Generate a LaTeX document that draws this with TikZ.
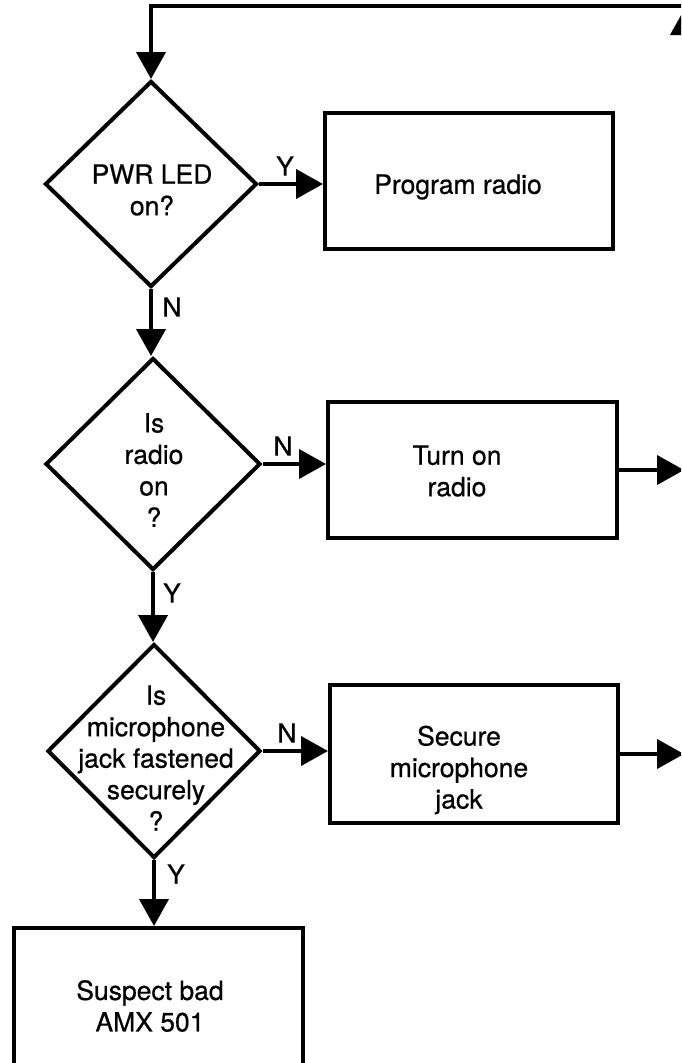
\documentclass[tikz,border=0pt]{standalone}
\usepackage{fontspec}
\setmainfont{TeX Gyre Heros}[FakeBold=0.6]
\usetikzlibrary{arrows.meta,shapes.geometric}
\begin{document}
\begin{tikzpicture}[x=1pt,y=-1pt,line width=4pt,
  arr/.style={-{Triangle[length=27pt,width=29pt]}},
  dia/.style={draw,diamond,inner sep=0pt},
  boxnode/.style={draw,rectangle,inner sep=0pt},
  txt/.style={font=\fontsize{26.5}{31.5}\selectfont,align=center,inner sep=0pt},
  lbl/.style={font=\fontsize{26.5}{30}\selectfont,inner sep=0pt}]
\useasboundingbox (0,0) rectangle (681,1063);
\clip (0,0) rectangle (681,1063);

% decisions
\node[dia,minimum width=212pt,minimum height=206pt] (d1) at (151,184) {};
\node[txt] (t1) at (152,190) {PWR LED\\on?};
\node[dia,minimum width=215pt,minimum height=212pt] (d2) at (153,464) {};
\node[txt] (t2) at (154,470) {Is\\radio\\on\\?};
\node[dia,minimum width=213pt,minimum height=214pt] (d3) at (154,751) {};
\node[txt] (t3) at (156,758) {Is\\microphone\\jack fastened\\securely\\?};

% boxes
\node[boxnode,minimum width=288pt,minimum height=136pt] (b1) at (469,181) {};
\node[txt] (tb1) at (458,187) {Program radio};
\node[boxnode,minimum width=289pt,minimum height=136pt] (b2) at (472.5,470) {};
\node[txt] (tb2) at (457,471) {Turn on\\radio};
\node[boxnode,minimum width=288pt,minimum height=138pt] (b3) at (474,754) {};
\node[txt] (tb3) at (459,770) {Secure\\microphone\\jack};
\node[boxnode,minimum width=289pt,minimum height=145pt] (b4) at (158.5,1000.5) {};
\node[txt] (tb4) at (150,1006) {Suspect bad\\AMX 501};

% connectors
\draw[arr] (d1.east) -- (d1.east -| b1.west);
\draw[arr] (d1.south) -- (d1.south |- d2.north);
\draw[arr] (d2.east) -- (d2.east -| b2.west);
\draw[arr] (d2.south) -- (d2.south |- d3.north);
\draw[arr] (d3.east) -- (d3.east -| b3.west);
\draw[arr] (d3.south) -- (d3.south |- b4.north);

% off-page connectors
\coordinate (o2) at (684,470);
\coordinate (o3) at (684,754);
\draw[arr] (b2.east) -- (o2);
\draw[arr] (b3.east) -- (o3);

% return loop at top
\coordinate (tr) at (695,6);
\coordinate (tl) at (151,6);
\draw[arr] (tr) -- (tl) -- (d1.north);
\coordinate (rb) at (685,80);
\coordinate (rt) at (685,8);
\draw[arr] (rb) -- (rt);

% labels
\node[lbl] (y1) at (285,166) {Y};
\node[lbl] (n1) at (172,307) {N};
\node[lbl] (n2) at (283,446) {N};
\node[lbl] (y2) at (172,593) {Y};
\node[lbl] (n3) at (287,733) {N};
\node[lbl] (y3) at (176,874) {Y};
\end{tikzpicture}
\end{document}
